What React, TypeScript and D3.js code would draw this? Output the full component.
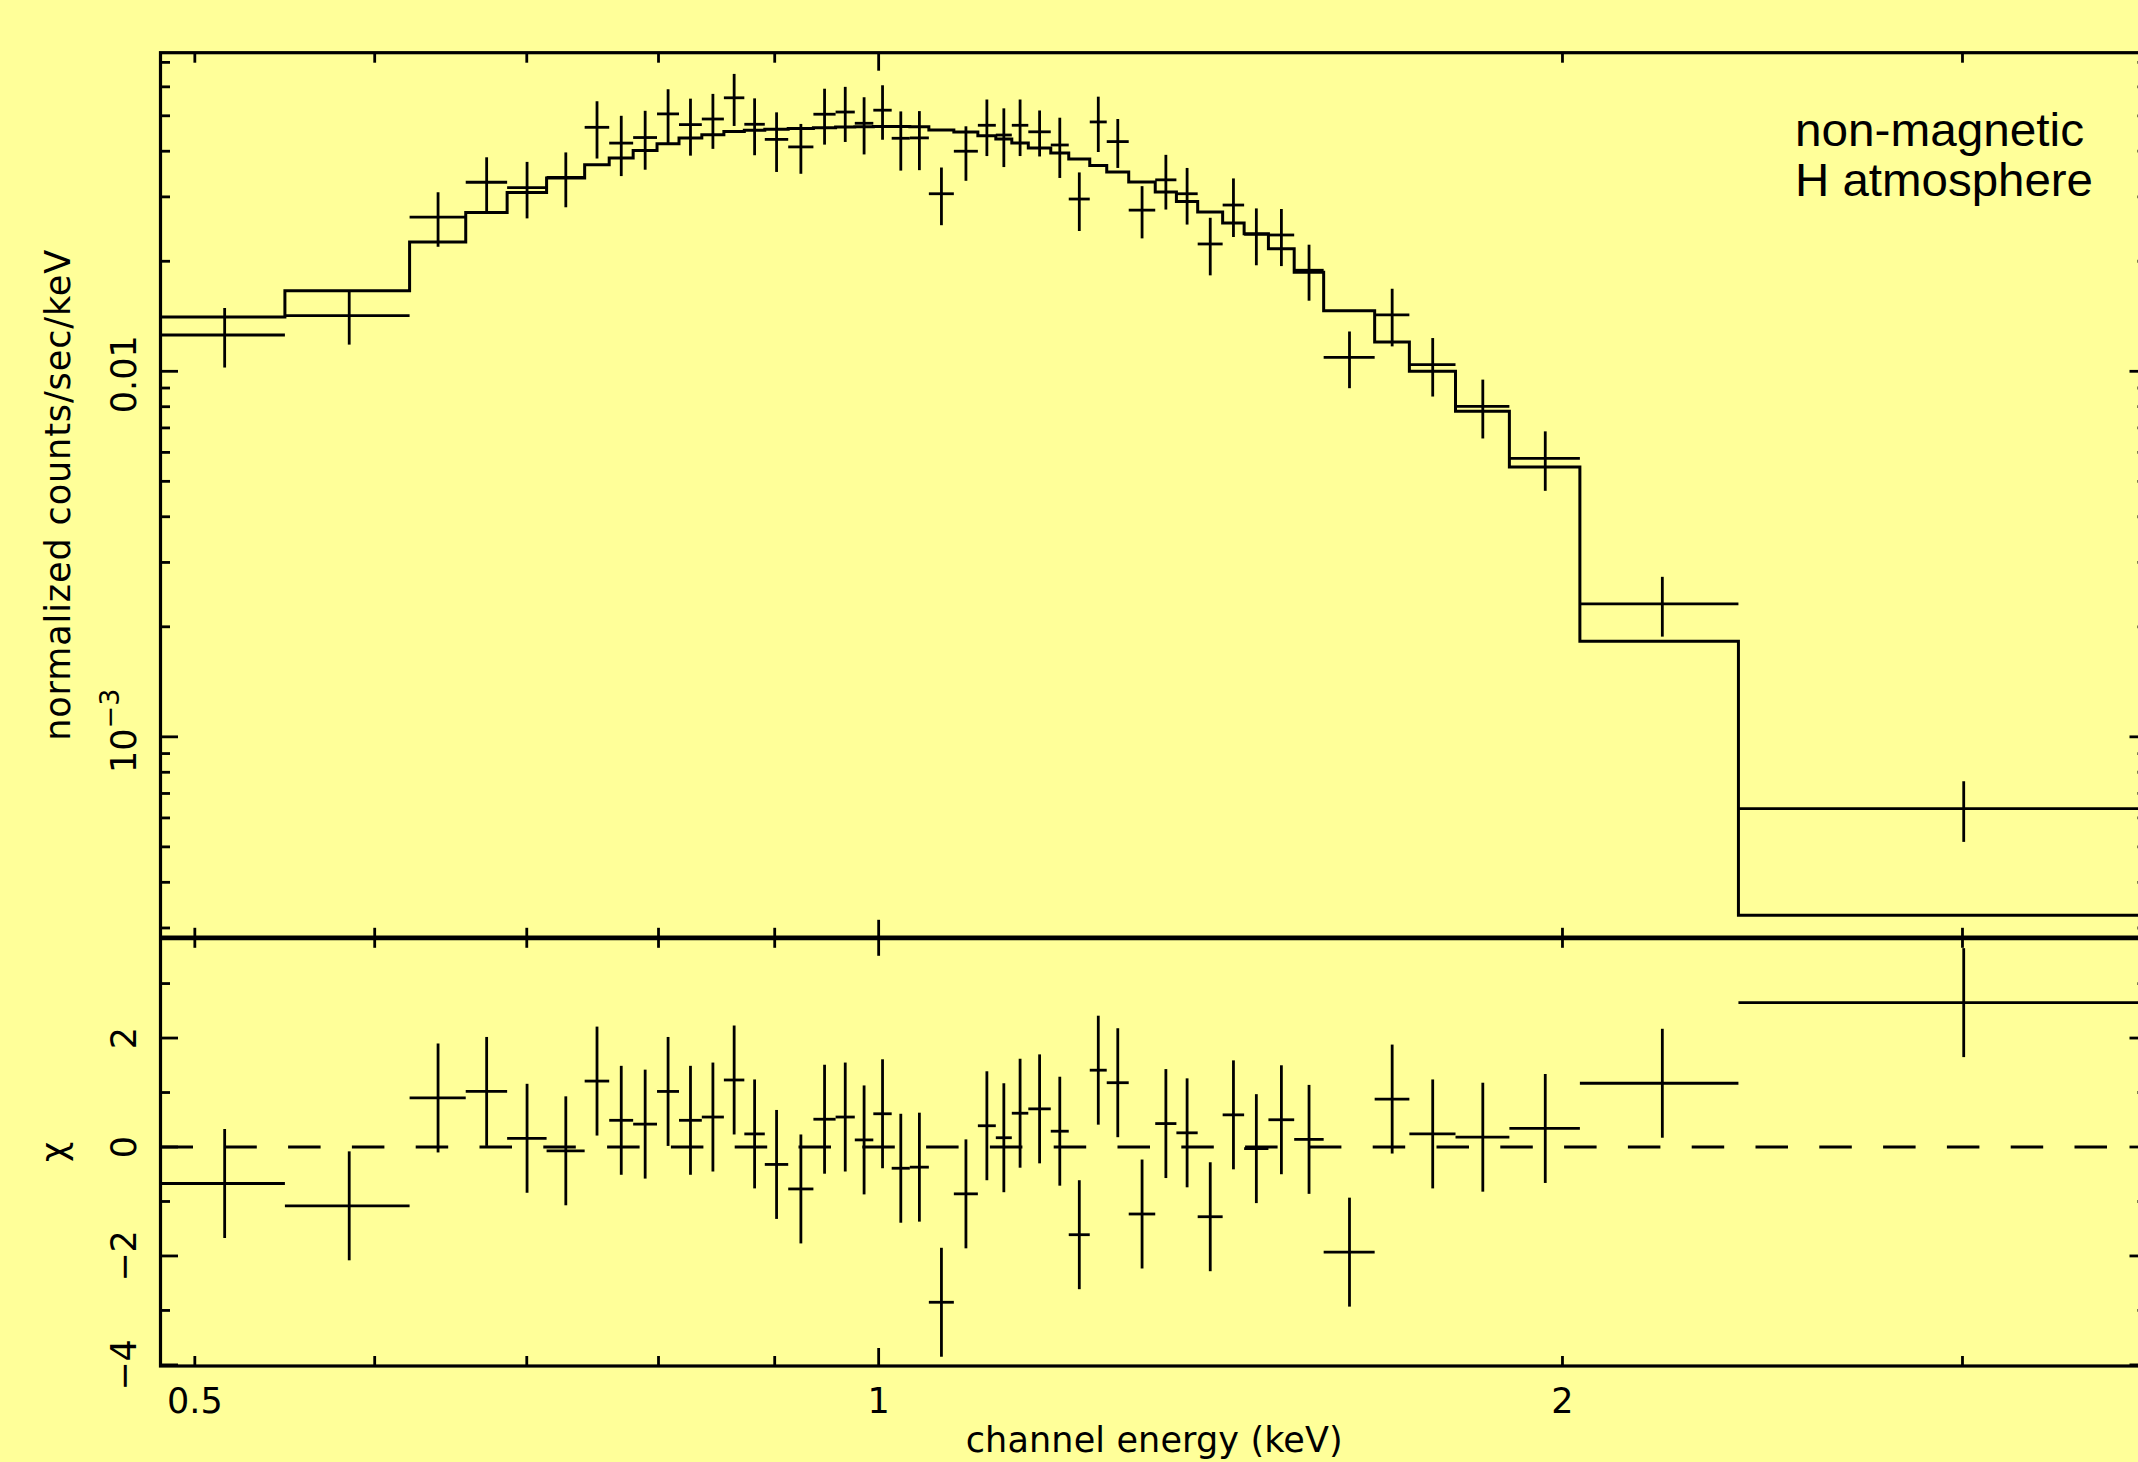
import React from "react";
import * as d3 from "d3";

// ---- data ----
// bin edges in keV (48 edges -> 47 spectral bins)
const binEdges = [
  0.4829, 0.5478, 0.6216, 0.658, 0.6862, 0.7142, 0.7423, 0.761, 0.7797, 0.7988,
  0.8168, 0.8359, 0.8548, 0.8727, 0.891, 0.9124, 0.936, 0.9573, 0.9761, 0.9946,
  1.0133, 1.0321, 1.0522, 1.0792, 1.1058, 1.1261, 1.1445, 1.1638, 1.1906, 1.2125,
  1.2386, 1.2601, 1.2885, 1.3236, 1.3523, 1.3818, 1.4172, 1.4484, 1.4845, 1.5238,
  1.57, 1.6533, 1.7125, 1.7945, 1.8952, 2.0356, 2.3905, 3.617,
];
// normalized counts/sec/keV
const counts = [
  0.01257, 0.0142, 0.0264, 0.0329, 0.0318, 0.0339, 0.0465, 0.0421, 0.0436, 0.0506,
  0.0473, 0.049, 0.056, 0.0474, 0.0431, 0.0411, 0.0505, 0.0512, 0.0477, 0.0518,
  0.0434, 0.0435, 0.0306, 0.04, 0.0471, 0.0443, 0.0471, 0.0452, 0.0416, 0.0296,
  0.0481, 0.0425, 0.0276, 0.0334, 0.0306, 0.0223, 0.0285, 0.0237, 0.0236, 0.0189,
  0.01092, 0.01426, 0.01043, 0.00802, 0.00578, 0.00231, 0.000636,
];
const countErr = [
  0.00233, 0.00237, 0.00449, 0.0056, 0.0056, 0.0058, 0.0083, 0.0079, 0.008, 0.0085,
  0.0084, 0.0084, 0.0091, 0.0084, 0.008, 0.0064, 0.0088, 0.0088, 0.0085, 0.0088,
  0.008, 0.008, 0.0055, 0.0068, 0.0083, 0.0081, 0.0083, 0.0065, 0.0078, 0.0054,
  0.0083, 0.0065, 0.0045, 0.0057, 0.0054, 0.004, 0.0052, 0.0042, 0.0042, 0.0033,
  0.00193, 0.00256, 0.0019, 0.00147, 0.00107, 0.00043, 0.00012,
];
// folded model (non-magnetic H atmosphere)
const modelCounts = [
  0.01407, 0.01661, 0.02257, 0.02719, 0.03084, 0.03378, 0.03673, 0.03831, 0.04019, 0.04192,
  0.04345, 0.04436, 0.0453, 0.04564, 0.04593, 0.04616, 0.04636, 0.04657, 0.04666, 0.04674,
  0.04674, 0.04666, 0.0457, 0.04512, 0.04408, 0.04318, 0.0421, 0.0408, 0.03953, 0.03807,
  0.03656, 0.03507, 0.03293, 0.03092, 0.02915, 0.02726, 0.02544, 0.02378, 0.02164, 0.01866,
  0.01464, 0.01202, 0.01, 0.00777, 0.00547, 0.001827, 0.000325,
];
// residuals (chi)
const chiResid = [
  -0.67, -1.08, 0.9, 1.02, 0.16, -0.07, 1.21, 0.49, 0.42, 1.02,
  0.49, 0.55, 1.23, 0.24, -0.32, -0.77, 0.51, 0.55, 0.13, 0.61,
  -0.39, -0.37, -2.85, -0.86, 0.39, 0.17, 0.62, 0.7, 0.29, -1.61,
  1.41, 1.18, -1.23, 0.43, 0.26, -1.28, 0.59, -0.03, 0.5, 0.14,
  -1.93, 0.88, 0.24, 0.18, 0.34, 1.17, 2.65,
];
const CHI_ERR = 1;

const countRange = [2.82e-4, 0.0744];
const chiRange = [-4.02, 3.84];

const xLabelTicks = [0.5, 1, 2];
const xLabelText = ["0.5", "1", "2"];
const countLabelTicks = [0.01, 0.001];
const countLabelMain = ["0.01", "10"];
const countLabelSup = ["", "\u22123"];
const chiLabelTicks = [-4, -2, 0, 2];
const chiLabelText = ["\u22124", "\u22122", "0", "2"];
const annotationLines = ["non-magnetic", "H atmosphere"];
const xTitle = "channel energy (keV)";
const yTitle = "normalized counts/sec/keV";
const chiTitle = "\u03c7";

// ---- layout ----
const W = 2138;
const H = 1462;
const L = 160.5;
const R = 2147;
const T = 52.7;
const M = 937.8;
const B = 1366;
const BG = "#ffff99";
const INK = "#000";
const FONT = "'DejaVu Sans', sans-serif";
const SANS = "'Liberation Sans', Arial, sans-serif";

const isDecade = (v: number) =>
  Math.abs(Math.log10(v) - Math.round(Math.log10(v))) < 1e-9;

export default function App() {
  const x = d3
    .scaleLog()
    .domain([binEdges[0], binEdges[binEdges.length - 1]])
    .range([L, R]);
  const yTop = d3.scaleLog().domain(countRange).range([M, T]);
  const yBot = d3.scaleLinear().domain(chiRange).range([B, M]);

  const bins = counts.map((c, i) => {
    const lo = binEdges[i];
    const hi = binEdges[i + 1];
    return {
      lo,
      hi,
      mid: (lo + hi) / 2,
      c,
      e: countErr[i],
      m: modelCounts[i],
      chi: chiResid[i],
    };
  });

  // model histogram path
  let modelPath = "";
  bins.forEach((b, i) => {
    if (i === 0) modelPath += `M${x(b.lo)},${yTop(b.m)}`;
    else modelPath += `V${yTop(b.m)}`;
    modelPath += `H${x(b.hi)}`;
  });

  const xTicks = x.ticks();
  const yTicks = yTop.ticks();
  const cTicks = yBot.ticks(8);

  const tickLines: React.ReactNode[] = [];
  xTicks.forEach((t, i) => {
    const len = isDecade(t) ? 18 : 10;
    const px = x(t);
    tickLines.push(<line key={`xt${i}`} x1={px} x2={px} y1={T} y2={T + len} />);
    tickLines.push(<line key={`xm${i}`} x1={px} x2={px} y1={M - len} y2={M + len} />);
    tickLines.push(<line key={`xb${i}`} x1={px} x2={px} y1={B} y2={B - len} />);
  });
  yTicks.forEach((t, i) => {
    const len = isDecade(t) ? 17.5 : 9.5;
    const py = yTop(t);
    tickLines.push(<line key={`yl${i}`} x1={L} x2={L + len} y1={py} y2={py} />);
    tickLines.push(<line key={`yr${i}`} x1={R} x2={R - len} y1={py} y2={py} />);
  });
  cTicks.forEach((t, i) => {
    const len = t % 2 === 0 ? 17.5 : 9.5;
    const py = yBot(t);
    tickLines.push(<line key={`cl${i}`} x1={L} x2={L + len} y1={py} y2={py} />);
    tickLines.push(<line key={`cr${i}`} x1={R} x2={R - len} y1={py} y2={py} />);
  });

  return (
    <svg
      width={W}
      height={H}
      viewBox={`0 0 ${W} ${H}`}
      style={{ position: "absolute", left: 0, top: 0, display: "block" }}
    >
      <rect x={0} y={0} width={W} height={H} fill={BG} />

      {/* zero line of residual panel */}
      <line
        x1={L}
        x2={R}
        y1={yBot(0)}
        y2={yBot(0)}
        stroke={INK}
        strokeWidth={3}
        strokeDasharray="32.5 31.3"
      />

      {/* model */}
      <path d={modelPath} fill="none" stroke={INK} strokeWidth={3} />

      {/* data crosses */}
      <g stroke={INK} strokeWidth={2.8}>
        {bins.map((b, i) => (
          <g key={`d${i}`}>
            <line x1={x(b.lo)} x2={x(b.hi)} y1={yTop(b.c)} y2={yTop(b.c)} />
            <line
              x1={x(b.mid)}
              x2={x(b.mid)}
              y1={yTop(b.c + b.e)}
              y2={yTop(Math.max(b.c - b.e, countRange[0]))}
            />
          </g>
        ))}
      </g>

      {/* residual crosses */}
      <g stroke={INK} strokeWidth={2.8}>
        {bins.map((b, i) => (
          <g key={`r${i}`}>
            <line x1={x(b.lo)} x2={x(b.hi)} y1={yBot(b.chi)} y2={yBot(b.chi)} />
            <line
              x1={x(b.mid)}
              x2={x(b.mid)}
              y1={yBot(b.chi + CHI_ERR)}
              y2={yBot(b.chi - CHI_ERR)}
            />
          </g>
        ))}
      </g>

      {/* frames */}
      <g stroke={INK} fill="none">
        <rect x={L} y={T} width={R - L} height={B - T} strokeWidth={3.2} />
        <line x1={L} x2={R} y1={M} y2={M} strokeWidth={4.8} />
      </g>
      <g stroke={INK} strokeWidth={2.8}>{tickLines}</g>

      {/* x tick labels */}
      <g fontFamily={FONT} fontSize={35} fill={INK} textAnchor="middle">
        {xLabelTicks.map((t, i) => (
          <text key={`xl${i}`} x={x(t)} y={1412.5}>
            {xLabelText[i]}
          </text>
        ))}
        <text x={(L + 2138) / 2 + 5} y={1452} textLength={377} lengthAdjust="spacing">
          {xTitle}
        </text>
      </g>

      {/* y tick labels, top panel */}
      <g fontFamily={FONT} fontSize={35} fill={INK} textAnchor="middle">
        {countLabelTicks.map((t, i) => (
          <text key={`yl${i}`} transform={`translate(136,${yTop(t) + (countLabelSup[i] ? -6 : 3)}) rotate(-90)`}>
            {countLabelMain[i]}
            {countLabelSup[i] ? (
              <tspan dy={-17} fontSize={27}>
                {countLabelSup[i]}
              </tspan>
            ) : null}
          </text>
        ))}
        {chiLabelTicks.map((t, i) => (
          <text key={`cl${i}`} transform={`translate(136,${yBot(t)}) rotate(-90)`}>
            {chiLabelText[i]}
          </text>
        ))}
        <text
          transform={`translate(70,${(T + M) / 2}) rotate(-90)`}
          textLength={491}
          lengthAdjust="spacing"
        >
          {yTitle}
        </text>
        <text transform={`translate(66,${(M + B) / 2}) rotate(-90)`}>{chiTitle}</text>
      </g>

      {/* annotation */}
      <g fontFamily={SANS} fontSize={46} fill={INK}>
        <text x={1795} y={146} textLength={289} lengthAdjust="spacingAndGlyphs">
          {annotationLines[0]}
        </text>
        <text x={1795} y={196} textLength={298} lengthAdjust="spacingAndGlyphs">
          {annotationLines[1]}
        </text>
      </g>
    </svg>
  );
}
